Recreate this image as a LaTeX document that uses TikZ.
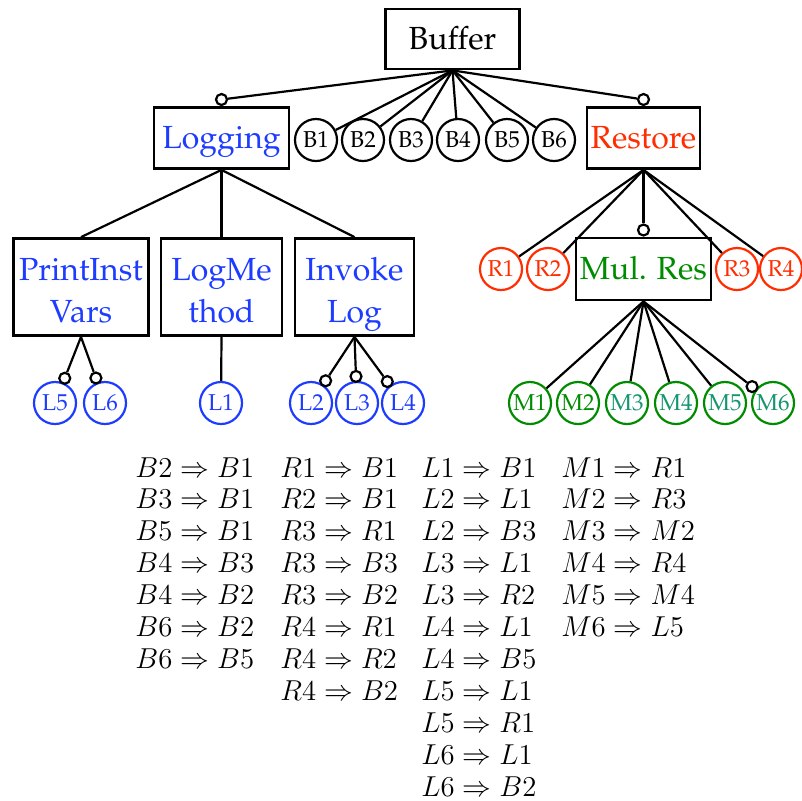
\documentclass[tikz,border=0pt]{standalone}
\usepackage[T1,TU]{fontenc}
\usetikzlibrary{calc}
\newcommand\palfont{\fontencoding{T1}\fontfamily{ppl}\selectfont}
\newcommand\twolines[2]{\begin{tabular}[t]{@{}c@{}}#1\\#2\end{tabular}}
\definecolor{blueL}{RGB}{30,60,255}
\definecolor{redR}{RGB}{255,45,0}
\definecolor{greenM}{RGB}{0,140,0}
\definecolor{tealM}{RGB}{20,150,110}
\begin{document}
\begin{tikzpicture}[x=0.5pt,y=-0.5pt,
  box/.style={draw,line width=1.4pt,inner sep=0pt,
    font={\palfont\fontsize{16}{21}\selectfont},text height=10.8pt,text depth=0pt},
  tallbox/.style={box,text height=0pt,text depth=7pt},
  feat/.style={draw,circle,line width=1.1pt,inner sep=0pt,minimum size=21pt,
    font={\palfont\fontsize{11.5}{13}\selectfont}},
  bfeat/.style={feat,draw=black,text=black},
  lfeat/.style={feat,draw=blueL,text=blueL},
  rfeat/.style={feat,draw=redR,text=redR},
  mfeat/.style={feat,draw=greenM,text=greenM},
  tfeat/.style={feat,draw=greenM,text=tealM},
  opt/.style={draw,circle,line width=1.1pt,inner sep=0pt,minimum size=5.5pt,fill=white},
  conn/.style={line width=1.1pt},
  eq/.style={inner sep=0pt,anchor=base west,font={\fontsize{14}{16}\selectfont}}]
\useasboundingbox (0,0) rectangle (802,800);

% top level
\node[box,minimum width=67pt,minimum height=30pt] (buffer) at (452.5,39) {Buffer};
\node[box,minimum width=67.5pt,minimum height=30.5pt,text=blueL] (logging) at (221.5,138) {Logging};
\node[box,minimum width=56.5pt,minimum height=30.5pt,text=redR] (restore) at (643.5,138) {Restore};
\foreach \n/\x in {1/316,2/363,3/411,4/458,5/507,6/554}
  \node[bfeat] (B\n) at (\x,140) {B\n};

% level 2
\node[tallbox,minimum width=67.5pt,minimum height=48.5pt,text=blueL] (piv) at (81,287) {\twolines{PrintInst}{Vars}};
\node[tallbox,minimum width=60.5pt,minimum height=48.5pt,text=blueL] (logm) at (221.5,287) {\twolines{LogMe}{thod}};
\node[tallbox,minimum width=59.5pt,minimum height=48.5pt,text=blueL] (invl) at (354.5,287) {\twolines{Invoke}{Log}};
\node[rfeat] (R1) at (501,269) {R1};
\node[rfeat] (R2) at (548,269) {R2};
\node[box,minimum width=67.5pt,minimum height=31pt,text=greenM] (mulres) at (643.5,269) {Mul. Res};
\node[rfeat] (R3) at (737,269) {R3};
\node[rfeat] (R4) at (781,269) {R4};

% level 3
\node[lfeat] (L5) at (55,403) {L5};
\node[lfeat] (L6) at (105,403) {L6};
\node[lfeat] (L1) at (221,403) {L1};
\node[lfeat] (L2) at (311,403) {L2};
\node[lfeat] (L3) at (357,403) {L3};
\node[lfeat] (L4) at (403,403) {L4};
\node[mfeat] (M1) at (530,403) {M1};
\node[mfeat] (M2) at (578,403) {M2};
\node[tfeat] (M3) at (627,403) {M3};
\node[tfeat] (M4) at (676,403) {M4};
\node[tfeat] (M5) at (725,403) {M5};
\node[tfeat] (M6) at (773,403) {M6};

% connectors
\node[opt,anchor=south] (oLog) at (logging.north) {};
\node[opt,anchor=south] (oRes) at (restore.north) {};
\node[opt,anchor=south] (oMul) at (mulres.north) {};
\draw[conn] (buffer.south) -- (oLog);
\draw[conn] (buffer.south) -- (oRes);
\foreach \n in {1,...,6} \draw[conn] (buffer.south) -- (B\n);

\draw[conn] (logging.south) -- (piv.north);
\draw[conn] (logging.south) -- (logm.north);
\draw[conn] (logging.south) -- (invl.north);
\foreach \n in {1,2,3,4} \draw[conn] (restore.south) -- (R\n);
\draw[conn] (restore.south) -- (oMul);

\node[opt] (oL5) at ($(L5)!13.3pt!(piv.south)$) {};
\node[opt] (oL6) at ($(L6)!13.3pt!(piv.south)$) {};
\draw[conn] (piv.south) -- (oL5);
\draw[conn] (piv.south) -- (oL6);
\draw[conn] (logm.south) -- (L1);
\foreach \n in {2,3,4} {
  \node[opt] (oL\n) at ($(L\n)!13.3pt!(invl.south)$) {};
  \draw[conn] (invl.south) -- (oL\n);
}
\foreach \n in {1,...,5} \draw[conn] (mulres.south) -- (M\n);
\node[opt] (oM6) at ($(M6)!13.3pt!(mulres.south)$) {};
\draw[conn] (mulres.south) -- (oM6);

% constraints
\foreach \a/\b [count=\i] in {B2/B1,B3/B1,B5/B1,B4/B3,B4/B2,B6/B2,B6/B5}
  \node[eq] (ca\i) at (135,{477+31.9*(\i-1)}) {$\a\Rightarrow\b$};
\foreach \a/\b [count=\i] in {R1/B1,R2/B1,R3/R1,R3/B3,R3/B2,R4/R1,R4/R2,R4/B2}
  \node[eq] (cb\i) at (280,{477+31.9*(\i-1)}) {$\a\Rightarrow\b$};
\foreach \a/\b [count=\i] in {L1/B1,L2/L1,L2/B3,L3/L1,L3/R2,L4/L1,L4/B5,L5/L1,L5/R1,L6/L1,L6/B2}
  \node[eq] (cc\i) at (421,{477+31.9*(\i-1)}) {$\a\Rightarrow\b$};
\foreach \a/\b [count=\i] in {M1/R1,M2/R3,M3/M2,M4/R4,M5/M4,M6/L5}
  \node[eq] (cd\i) at (561,{477+31.9*(\i-1)}) {$\a\Rightarrow\b$};
\end{tikzpicture}
\end{document}
